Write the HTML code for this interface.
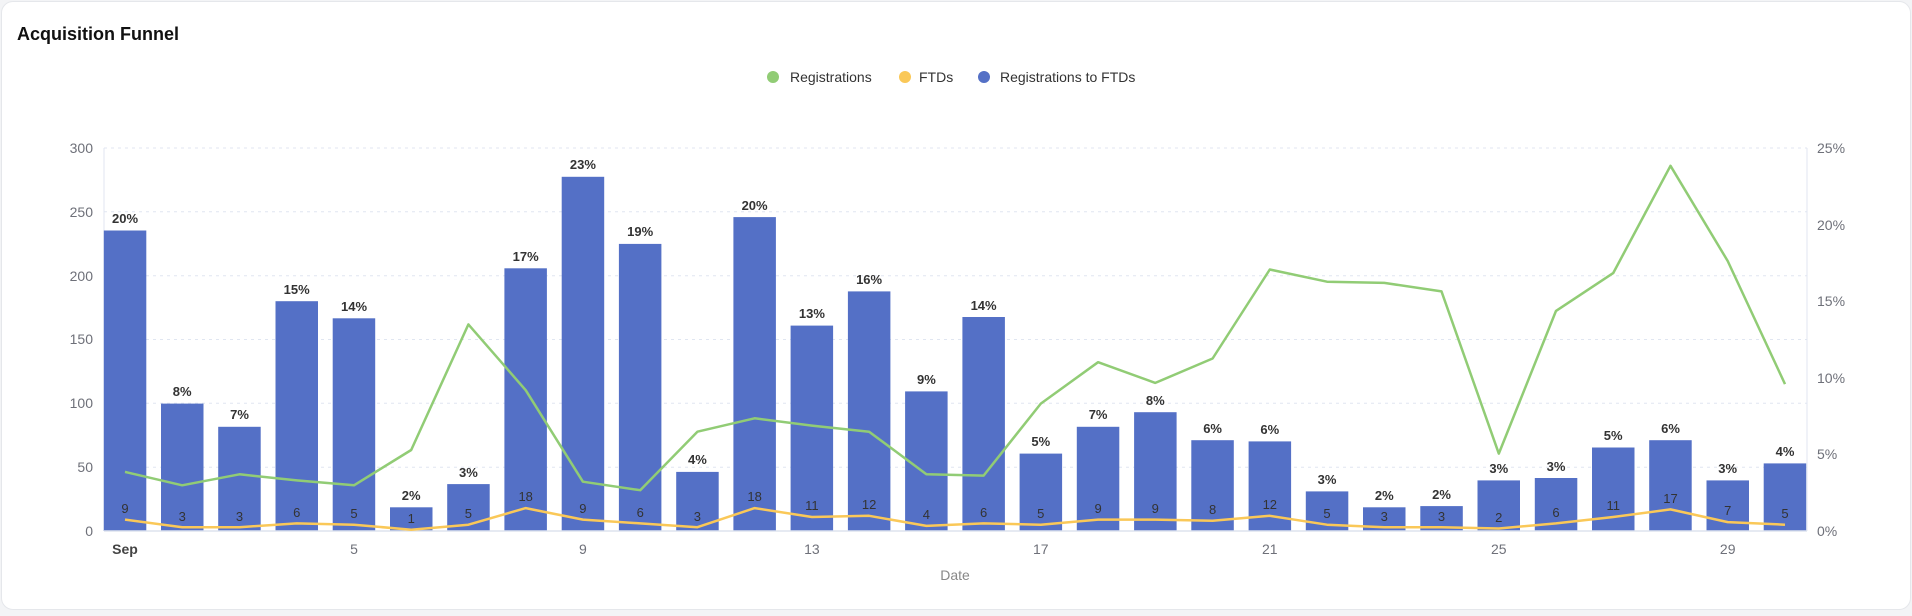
<!DOCTYPE html>
<html><head><meta charset="utf-8"><style>
html,body{margin:0;padding:0;background:#f3f4f6;width:1912px;height:616px;overflow:hidden}
.card{position:absolute;left:1px;top:1px;width:1908px;height:607px;background:#fff;border:1px solid #e5e7eb;border-radius:12px}
svg{position:absolute;left:0;top:0}
text{font-family:"Liberation Sans",sans-serif}
</style></head><body>
<div class="card"></div>
<svg width="1912" height="616" viewBox="0 0 1912 616">
<text x="17" y="40" font-size="18" font-weight="bold" fill="#111">Acquisition Funnel</text>
<!-- legend -->
<circle cx="773" cy="77" r="6" fill="#91cc75"/><text x="790" y="82" font-size="14" fill="#333">Registrations</text>
<circle cx="905" cy="77" r="6" fill="#fac858"/><text x="919" y="82" font-size="14" fill="#333">FTDs</text>
<circle cx="984" cy="77" r="6" fill="#5470c6"/><text x="1000" y="82" font-size="14" fill="#333">Registrations to FTDs</text>
<!-- grid -->
<g stroke="#e0e6f1" stroke-dasharray="3,4" stroke-width="1">
<line x1="104" x2="1807" y1="148" y2="148"/><line x1="104" x2="1807" y1="211.8" y2="211.8"/>
<line x1="104" x2="1807" y1="275.7" y2="275.7"/><line x1="104" x2="1807" y1="339.5" y2="339.5"/>
<line x1="104" x2="1807" y1="403.3" y2="403.3"/><line x1="104" x2="1807" y1="467.2" y2="467.2"/>
</g>
<line x1="104" x2="104" y1="148" y2="531" stroke="#e0e6f1"/>
<line x1="1807" x2="1807" y1="148" y2="531" stroke="#e0e6f1"/>
<g font-size="14" fill="#6e7079" text-anchor="end">
<text x="93" y="153">300</text><text x="93" y="217">250</text><text x="93" y="281">200</text>
<text x="93" y="344">150</text><text x="93" y="408">100</text><text x="93" y="472">50</text><text x="93" y="536">0</text>
</g>
<g font-size="14" fill="#6e7079">
<text x="1817" y="153">25%</text><text x="1817" y="230">20%</text><text x="1817" y="306">15%</text>
<text x="1817" y="383">10%</text><text x="1817" y="459">5%</text><text x="1817" y="536">0%</text>
</g>
<g font-size="14" fill="#6e7079" text-anchor="middle">
<text x="125" y="554" font-weight="bold" fill="#444">Sep</text><text x="354" y="554">5</text><text x="582.9" y="554">9</text>
<text x="811.9" y="554">13</text><text x="1040.8" y="554">17</text><text x="1269.8" y="554">21</text>
<text x="1498.8" y="554">25</text><text x="1727.7" y="554">29</text>
<text x="955" y="580" fill="#888">Date</text>
</g>
<!-- bars -->
<g fill="#5470c6">
<rect x="103.8" y="230.5" width="42.5" height="300.5"/>
<rect x="161" y="403.6" width="42.5" height="127.4"/>
<rect x="218.2" y="426.8" width="42.5" height="104.2"/>
<rect x="275.5" y="301.2" width="42.5" height="229.8"/>
<rect x="332.7" y="318.3" width="42.5" height="212.7"/>
<rect x="390" y="507.3" width="42.5" height="23.7"/>
<rect x="447.2" y="484.1" width="42.5" height="46.9"/>
<rect x="504.4" y="268.3" width="42.5" height="262.7"/>
<rect x="561.7" y="176.8" width="42.5" height="354.2"/>
<rect x="618.9" y="243.9" width="42.5" height="287.1"/>
<rect x="676.2" y="471.9" width="42.5" height="59.1"/>
<rect x="733.4" y="217.1" width="42.5" height="313.9"/>
<rect x="790.6" y="325.6" width="42.5" height="205.4"/>
<rect x="847.9" y="291.4" width="42.5" height="239.6"/>
<rect x="905.1" y="391.4" width="42.5" height="139.6"/>
<rect x="962.4" y="317" width="42.5" height="214"/>
<rect x="1019.6" y="453.6" width="42.5" height="77.4"/>
<rect x="1076.8" y="426.8" width="42.5" height="104.2"/>
<rect x="1134.1" y="412.2" width="42.5" height="118.8"/>
<rect x="1191.3" y="440.2" width="42.5" height="90.8"/>
<rect x="1248.6" y="441.4" width="42.5" height="89.6"/>
<rect x="1305.8" y="491.4" width="42.5" height="39.6"/>
<rect x="1363" y="507.3" width="42.5" height="23.7"/>
<rect x="1420.3" y="506.1" width="42.5" height="24.9"/>
<rect x="1477.5" y="480.4" width="42.5" height="50.6"/>
<rect x="1534.8" y="478" width="42.5" height="53"/>
<rect x="1592" y="447.5" width="42.5" height="83.5"/>
<rect x="1649.2" y="440.2" width="42.5" height="90.8"/>
<rect x="1706.5" y="480.4" width="42.5" height="50.6"/>
<rect x="1763.7" y="463.4" width="42.5" height="67.6"/>
</g>
<line x1="104" x2="1807" y1="531" y2="531" stroke="#dde3ee" stroke-width="1.5"/>
<g font-size="13" font-weight="bold" fill="#333" text-anchor="middle">
<text x="125" y="223">20%</text><text x="182.2" y="396">8%</text><text x="239.5" y="419">7%</text>
<text x="296.7" y="294">15%</text><text x="354" y="311">14%</text><text x="411.2" y="500">2%</text>
<text x="468.4" y="477">3%</text><text x="525.7" y="261">17%</text><text x="582.9" y="169">23%</text>
<text x="640.2" y="236">19%</text><text x="697.4" y="464">4%</text><text x="754.6" y="210">20%</text>
<text x="811.9" y="318">13%</text><text x="869.1" y="284">16%</text><text x="926.4" y="384">9%</text>
<text x="983.6" y="310">14%</text><text x="1040.8" y="446">5%</text><text x="1098.1" y="419">7%</text>
<text x="1155.3" y="405">8%</text><text x="1212.6" y="433">6%</text><text x="1269.8" y="434">6%</text>
<text x="1327" y="484">3%</text><text x="1384.3" y="500">2%</text><text x="1441.5" y="499">2%</text>
<text x="1498.8" y="473">3%</text><text x="1556" y="471">3%</text><text x="1613.2" y="440">5%</text>
<text x="1670.5" y="433">6%</text><text x="1727.7" y="473">3%</text><text x="1785" y="456">4%</text>
</g>
<polyline fill="none" stroke="#91cc75" stroke-width="2.5" stroke-linejoin="round" points="125,471.9 182.2,485.3 239.5,474.3 296.7,480.4 354,485.3 411.2,450 468.4,324.4 525.7,390.2 582.9,481.7 640.2,490.2 697.4,431.7 754.6,418.3 811.9,425.6 869.1,431.7 926.4,474.3 983.6,475.6 1040.8,403.6 1098.1,362.2 1155.3,382.9 1212.6,358.5 1269.8,269.5 1327,281.7 1384.3,282.9 1441.5,291.4 1498.8,453.6 1556,310.9 1613.2,273.1 1670.5,165.8 1727.7,261 1785,384.1"/>
<polyline fill="none" stroke="#fac858" stroke-width="2.5" stroke-linejoin="round" points="125,519.6 182.2,527.2 239.5,527.2 296.7,523.4 354,524.7 411.2,529.7 468.4,524.7 525.7,508.1 582.9,519.6 640.2,523.4 697.4,527.2 754.6,508.1 811.9,517 869.1,515.8 926.4,525.9 983.6,523.4 1040.8,524.7 1098.1,519.6 1155.3,519.6 1212.6,520.8 1269.8,515.8 1327,524.7 1384.3,527.2 1441.5,527.2 1498.8,528.5 1556,523.4 1613.2,517 1670.5,509.4 1727.7,522.1 1785,524.7"/>
<g font-size="13" fill="#333" text-anchor="middle">
<text x="125" y="513">9</text><text x="182.2" y="521">3</text><text x="239.5" y="521">3</text>
<text x="296.7" y="517">6</text><text x="354" y="518">5</text><text x="411.2" y="523">1</text>
<text x="468.4" y="518">5</text><text x="525.7" y="501">18</text><text x="582.9" y="513">9</text>
<text x="640.2" y="517">6</text><text x="697.4" y="521">3</text><text x="754.6" y="501">18</text>
<text x="811.9" y="510">11</text><text x="869.1" y="509">12</text><text x="926.4" y="519">4</text>
<text x="983.6" y="517">6</text><text x="1040.8" y="518">5</text><text x="1098.1" y="513">9</text>
<text x="1155.3" y="513">9</text><text x="1212.6" y="514">8</text><text x="1269.8" y="509">12</text>
<text x="1327" y="518">5</text><text x="1384.3" y="521">3</text><text x="1441.5" y="521">3</text>
<text x="1498.8" y="522">2</text><text x="1556" y="517">6</text><text x="1613.2" y="510">11</text>
<text x="1670.5" y="503">17</text><text x="1727.7" y="515">7</text><text x="1785" y="518">5</text>
</g>
</svg>
</body></html>
